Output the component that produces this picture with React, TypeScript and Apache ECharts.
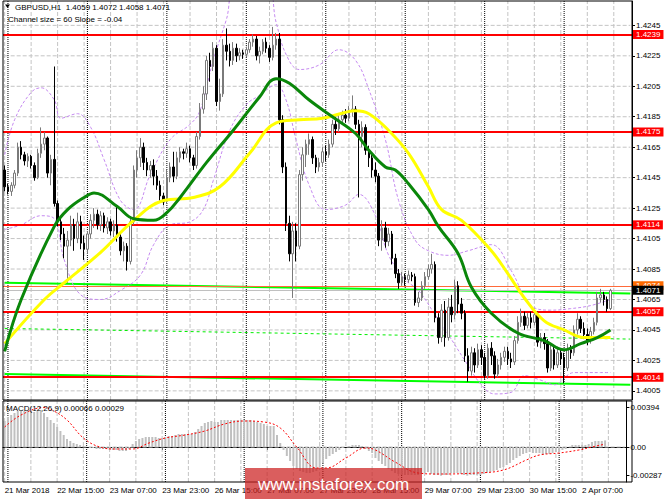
import React, { useEffect, useRef } from "react";
import * as echarts from "echarts";

const FONT = '"Liberation Sans", Arial, sans-serif';

const SYMBOL = "GBPUSD,H1";
const CHANNEL_TEXT = "Channel size = 60 Slope = -0.04";
const MACD_PARAMS = "MACD(12,26,9)";
const WATERMARK = "www.instaforex.com";
const FIRST_LABEL = "21 Mar 2018";

// trading days shown: [day, first hour, last hour]
const BAR_DAYS: [string, number, number][] = [
  ["21 Mar", 23, 23],
  ["22 Mar", 0, 23],
  ["23 Mar", 0, 23],
  ["26 Mar", 0, 23],
  ["27 Mar", 0, 23],
  ["28 Mar", 0, 23],
  ["29 Mar", 0, 23],
  ["30 Mar", 0, 23],
  ["2 Apr", 0, 14],
];
const BLANK_SLOTS = 6;
const LABEL_EVERY = 16;
const GRID_EVERY = 8;

// [open, high, low, close]
const CANDLES: number[][] = [
  [1.4150, 1.4153, 1.4136, 1.4139], [1.4139, 1.4141, 1.4134, 1.4136], [1.4136, 1.4142, 1.4133, 1.4140], [1.4140, 1.4150, 1.4138, 1.4148],
  [1.4148, 1.4168, 1.4146, 1.4165], [1.4165, 1.4169, 1.4157, 1.4160], [1.4160, 1.4162, 1.4153, 1.4156], [1.4156, 1.4161, 1.4152, 1.4159],
  [1.4159, 1.4160, 1.4151, 1.4153], [1.4153, 1.4155, 1.4143, 1.4145], [1.4145, 1.4164, 1.4144, 1.4161], [1.4161, 1.4178, 1.4158, 1.4167],
  [1.4167, 1.4175, 1.4163, 1.4171], [1.4171, 1.4172, 1.4145, 1.4148], [1.4148, 1.4160, 1.4140, 1.4157], [1.4157, 1.4218, 1.4126, 1.4128],
  [1.4128, 1.4130, 1.4113, 1.4116], [1.4116, 1.4119, 1.4104, 1.4108], [1.4108, 1.4112, 1.4092, 1.4100], [1.4100, 1.4110, 1.4076, 1.4104],
  [1.4104, 1.4120, 1.4100, 1.4114], [1.4114, 1.4118, 1.4097, 1.4105], [1.4105, 1.4122, 1.4102, 1.4116], [1.4116, 1.4120, 1.4098, 1.4102],
  [1.4102, 1.4107, 1.4091, 1.4098], [1.4098, 1.4110, 1.4095, 1.4108], [1.4108, 1.4121, 1.4105, 1.4117], [1.4117, 1.4125, 1.4112, 1.4121],
  [1.4121, 1.4124, 1.4111, 1.4114], [1.4114, 1.4123, 1.4110, 1.4120], [1.4120, 1.4122, 1.4109, 1.4112], [1.4112, 1.4119, 1.4108, 1.4116],
  [1.4116, 1.4118, 1.4107, 1.4110], [1.4110, 1.4117, 1.4106, 1.4114], [1.4114, 1.4126, 1.4103, 1.4106], [1.4106, 1.4109, 1.4094, 1.4097],
  [1.4097, 1.4103, 1.4090, 1.4100], [1.4100, 1.4102, 1.4084, 1.4090], [1.4090, 1.4119, 1.4088, 1.4116], [1.4116, 1.4153, 1.4114, 1.4150],
  [1.4150, 1.4163, 1.4145, 1.4158], [1.4158, 1.4171, 1.4152, 1.4165], [1.4165, 1.4168, 1.4150, 1.4155], [1.4155, 1.4158, 1.4146, 1.4150],
  [1.4150, 1.4156, 1.4145, 1.4153], [1.4153, 1.4157, 1.4140, 1.4146], [1.4146, 1.4150, 1.4137, 1.4140], [1.4140, 1.4143, 1.4130, 1.4133],
  [1.4133, 1.4135, 1.4127, 1.4129], [1.4130, 1.4150, 1.4128, 1.4145], [1.4145, 1.4155, 1.4142, 1.4152], [1.4152, 1.4162, 1.4142, 1.4146],
  [1.4146, 1.4162, 1.4144, 1.4158], [1.4158, 1.4165, 1.4155, 1.4162], [1.4162, 1.4164, 1.4157, 1.4161], [1.4161, 1.4168, 1.4158, 1.4164],
  [1.4164, 1.4166, 1.4155, 1.4158], [1.4158, 1.4160, 1.4150, 1.4153], [1.4153, 1.4175, 1.4151, 1.4172], [1.4172, 1.4194, 1.4170, 1.4190],
  [1.4190, 1.4205, 1.4187, 1.4200], [1.4200, 1.4225, 1.4196, 1.4222], [1.4222, 1.4227, 1.4208, 1.4218], [1.4218, 1.4234, 1.4215, 1.4230],
  [1.4230, 1.4232, 1.4192, 1.4195], [1.4195, 1.4210, 1.4189, 1.4200], [1.4200, 1.4236, 1.4198, 1.4232], [1.4232, 1.4243, 1.4222, 1.4228],
  [1.4228, 1.4233, 1.4218, 1.4222], [1.4222, 1.4234, 1.4219, 1.4230], [1.4230, 1.4233, 1.4221, 1.4225], [1.4225, 1.4230, 1.4222, 1.4227],
  [1.4227, 1.4229, 1.4223, 1.4226], [1.4226, 1.4231, 1.4224, 1.4229], [1.4229, 1.4236, 1.4227, 1.4234], [1.4234, 1.4239, 1.4231, 1.4236],
  [1.4236, 1.4238, 1.4222, 1.4225], [1.4225, 1.4231, 1.4220, 1.4228], [1.4228, 1.4236, 1.4226, 1.4234], [1.4234, 1.4237, 1.4227, 1.4230],
  [1.4230, 1.4232, 1.4221, 1.4224], [1.4224, 1.4244, 1.4222, 1.4232], [1.4232, 1.4240, 1.4229, 1.4236], [1.4236, 1.4240, 1.4180, 1.4183],
  [1.4183, 1.4186, 1.4148, 1.4152], [1.4152, 1.4155, 1.4110, 1.4115], [1.4115, 1.4120, 1.4090, 1.4095], [1.4095, 1.4116, 1.4066, 1.4110],
  [1.4110, 1.4115, 1.4090, 1.4100], [1.4100, 1.4150, 1.4098, 1.4147], [1.4147, 1.4165, 1.4143, 1.4160], [1.4160, 1.4170, 1.4152, 1.4167],
  [1.4167, 1.4174, 1.4160, 1.4170], [1.4170, 1.4172, 1.4154, 1.4158], [1.4158, 1.4160, 1.4148, 1.4152], [1.4152, 1.4158, 1.4149, 1.4155],
  [1.4155, 1.4165, 1.4152, 1.4162], [1.4162, 1.4166, 1.4156, 1.4160], [1.4160, 1.4170, 1.4158, 1.4167], [1.4167, 1.4183, 1.4165, 1.4180],
  [1.4180, 1.4185, 1.4173, 1.4177], [1.4177, 1.4186, 1.4175, 1.4183], [1.4183, 1.4189, 1.4180, 1.4186], [1.4186, 1.4190, 1.4181, 1.4184],
  [1.4184, 1.4192, 1.4182, 1.4189], [1.4189, 1.4199, 1.4185, 1.4190], [1.4190, 1.4192, 1.4177, 1.4180], [1.4180, 1.4183, 1.4132, 1.4172],
  [1.4172, 1.4182, 1.4165, 1.4178], [1.4178, 1.4180, 1.4160, 1.4163], [1.4163, 1.4166, 1.4152, 1.4158], [1.4158, 1.4160, 1.4145, 1.4150],
  [1.4150, 1.4155, 1.4142, 1.4146], [1.4146, 1.4148, 1.4100, 1.4104], [1.4104, 1.4117, 1.4097, 1.4112], [1.4112, 1.4116, 1.4099, 1.4103],
  [1.4103, 1.4112, 1.4100, 1.4108], [1.4108, 1.4110, 1.4088, 1.4092], [1.4092, 1.4095, 1.4079, 1.4082], [1.4082, 1.4085, 1.4072, 1.4076],
  [1.4076, 1.4083, 1.4074, 1.4080], [1.4080, 1.4082, 1.4074, 1.4078], [1.4078, 1.4084, 1.4076, 1.4081], [1.4081, 1.4083, 1.4077, 1.4080],
  [1.4080, 1.4082, 1.4061, 1.4063], [1.4063, 1.4070, 1.4060, 1.4066], [1.4066, 1.4077, 1.4064, 1.4074], [1.4074, 1.4083, 1.4072, 1.4080],
  [1.4080, 1.4088, 1.4078, 1.4085], [1.4085, 1.4095, 1.4082, 1.4088], [1.4088, 1.4090, 1.4050, 1.4053], [1.4053, 1.4056, 1.4036, 1.4040],
  [1.4040, 1.4062, 1.4037, 1.4058], [1.4058, 1.4064, 1.4034, 1.4040], [1.4040, 1.4066, 1.4038, 1.4060], [1.4060, 1.4068, 1.4050, 1.4055],
  [1.4055, 1.4078, 1.4052, 1.4074], [1.4074, 1.4077, 1.4056, 1.4062], [1.4062, 1.4066, 1.4052, 1.4056], [1.4056, 1.4058, 1.4024, 1.4028],
  [1.4028, 1.4033, 1.4011, 1.4018], [1.4018, 1.4034, 1.4015, 1.4030], [1.4030, 1.4033, 1.4017, 1.4022], [1.4022, 1.4036, 1.4020, 1.4032],
  [1.4032, 1.4035, 1.4022, 1.4027], [1.4027, 1.4030, 1.4013, 1.4015], [1.4015, 1.4036, 1.4013, 1.4033], [1.4033, 1.4037, 1.4022, 1.4028],
  [1.4028, 1.4031, 1.4013, 1.4016], [1.4016, 1.4026, 1.4014, 1.4022], [1.4022, 1.4030, 1.4019, 1.4027], [1.4027, 1.4034, 1.4024, 1.4031],
  [1.4031, 1.4034, 1.4022, 1.4026], [1.4026, 1.4030, 1.4020, 1.4024], [1.4024, 1.4041, 1.4022, 1.4038], [1.4038, 1.4054, 1.4036, 1.4050],
  [1.4050, 1.4059, 1.4047, 1.4054], [1.4054, 1.4057, 1.4045, 1.4048], [1.4048, 1.4056, 1.4046, 1.4053], [1.4053, 1.4057, 1.4046, 1.4050],
  [1.4050, 1.4059, 1.4048, 1.4055], [1.4055, 1.4057, 1.4034, 1.4037], [1.4037, 1.4043, 1.4033, 1.4040], [1.4040, 1.4043, 1.4032, 1.4036],
  [1.4036, 1.4039, 1.4017, 1.4020], [1.4020, 1.4036, 1.4018, 1.4032], [1.4032, 1.4035, 1.4019, 1.4022], [1.4022, 1.4034, 1.4020, 1.4030],
  [1.4030, 1.4033, 1.4022, 1.4026], [1.4027, 1.4030, 1.4010, 1.4020], [1.4020, 1.4036, 1.4018, 1.4032], [1.4032, 1.4035, 1.4026, 1.4030],
  [1.4030, 1.4048, 1.4028, 1.4045], [1.4045, 1.4056, 1.4042, 1.4052], [1.4052, 1.4054, 1.4043, 1.4046], [1.4046, 1.4050, 1.4039, 1.4042],
  [1.4042, 1.4046, 1.4035, 1.4038], [1.4038, 1.4047, 1.4036, 1.4044], [1.4044, 1.4053, 1.4042, 1.4050], [1.4050, 1.4070, 1.4048, 1.4066],
  [1.4066, 1.4072, 1.4063, 1.4068], [1.4068, 1.4070, 1.4061, 1.4065], [1.4065, 1.4067, 1.4057, 1.4059], [1.4059, 1.4072, 1.4058, 1.4071],
];

// moving averages: [bar index, price]
const MA_GREEN: number[][] = [
  [0, 1.4031], [5, 1.4065], [15, 1.4113], [19, 1.4124], [24, 1.4132], [27, 1.4135], [34, 1.4126], [39, 1.4118],
  [45, 1.4117], [49, 1.4122], [53, 1.4132], [61, 1.4155], [69, 1.4176], [77, 1.4198], [82, 1.4210], [86, 1.4207],
  [92, 1.4196], [99, 1.4185], [106, 1.4174], [110, 1.4163], [115, 1.4152], [118, 1.4150], [122, 1.4141], [128, 1.4124],
  [131, 1.4113], [137, 1.4095], [141, 1.4073], [147, 1.4056], [155, 1.4043], [163, 1.4038], [169, 1.4032], [174, 1.4036],
  [179, 1.4040], [183, 1.4045],
];
const MA_YELLOW: number[][] = [
  [0, 1.4036], [12, 1.4065], [18, 1.4076], [29, 1.4096], [39, 1.4117], [48, 1.4130], [57, 1.4132], [65, 1.4139],
  [74, 1.4161], [82, 1.4181], [89, 1.4183], [96, 1.4184], [103, 1.4188], [106, 1.4189], [110, 1.4187], [116, 1.4176],
  [122, 1.4161], [128, 1.4139], [132, 1.4124], [138, 1.4117], [147, 1.4097], [152, 1.4082], [157, 1.4066], [163, 1.4051],
  [169, 1.4045], [175, 1.4040], [181, 1.4040], [183, 1.4040],
];
// dotted envelope bands: [bar index, price]
const BAND_UPPER: number[][] = [
  [0, 1.4160], [3, 1.4183], [8, 1.4201], [11, 1.4204], [15, 1.4196], [17, 1.4184], [22, 1.4187], [26, 1.4178],
  [30, 1.4157], [35, 1.4130], [39, 1.4124], [44, 1.4147], [50, 1.4170], [56, 1.4180], [59, 1.4189], [63, 1.4222],
  [67, 1.4249], [70, 1.4272], [79, 1.4272], [82, 1.4247], [85, 1.4226], [89, 1.4216], [95, 1.4219], [101, 1.4229],
  [106, 1.4222], [110, 1.4203], [115, 1.4170], [119, 1.4130], [124, 1.4104], [128, 1.4097], [134, 1.4094], [140, 1.4097],
  [147, 1.4101], [153, 1.4084], [159, 1.4061], [165, 1.4058], [171, 1.4059], [177, 1.4061], [183, 1.4065],
];
const BAND_LOWER: number[][] = [
  [0, 1.4111], [5, 1.4114], [11, 1.4120], [15, 1.4118], [18, 1.4091], [23, 1.4068], [29, 1.4065], [35, 1.4071],
  [41, 1.4081], [45, 1.4101], [50, 1.4114], [56, 1.4116], [60, 1.4124], [63, 1.4143], [68, 1.4176], [73, 1.4193],
  [77, 1.4199], [82, 1.4206], [85, 1.4196], [88, 1.4170], [92, 1.4140], [97, 1.4124], [103, 1.4127], [107, 1.4134],
  [112, 1.4120], [116, 1.4094], [121, 1.4078], [125, 1.4071], [130, 1.4055], [134, 1.4042], [139, 1.4025], [144, 1.4009],
  [148, 1.4003], [153, 1.4004], [157, 1.4015], [162, 1.4012], [166, 1.4009], [172, 1.4017], [180, 1.4017], [183, 1.4017],
];
// regression channel (start slot, end slot)
const CHANNEL_UPPER: number[][] = [[0, 1.4076], [189, 1.4069]];
const CHANNEL_MID: number[][] = [[0, 1.4046], [189, 1.4039]];
const CHANNEL_LOWER: number[][] = [[0, 1.4016], [189, 1.4009]];

const RED_LEVELS = [1.4239, 1.4175, 1.4114, 1.4057, 1.4014];
const ORANGE_LEVEL = 1.4074;
const BID_LEVEL = 1.4071;

const PRICE_TICKS = [1.4005, 1.4025, 1.4045, 1.4065, 1.4085, 1.4105, 1.4125, 1.4145, 1.4165, 1.4185, 1.4205, 1.4225, 1.4245];
const MACD_TICKS = [0.00394, 0, -0.00287];

const MACD_MAIN: number[] = [
  0.0026, 0.0030, 0.0032, 0.0034, 0.0036, 0.0036, 0.0036, 0.0036, 0.0036, 0.0035,
  0.0036, 0.0036, 0.0034, 0.0030, 0.0027, 0.0024, 0.0020, 0.0016, 0.0012, 0.0008,
  0.0006, 0.0004, 0.0003, 0.0002, 0.0001, 0.0000, -0.0001, -0.0001, -0.0002, -0.0002,
  -0.0002, -0.0002, -0.0003, -0.0003, -0.0003, -0.0004, -0.0004, -0.0004, -0.0002, 0.0003,
  0.0006, 0.0008, 0.0009, 0.0010, 0.0010, 0.0010, 0.0010, 0.0009, 0.0009, 0.0010,
  0.0011, 0.0011, 0.0012, 0.0013, 0.0013, 0.0013, 0.0013, 0.0013, 0.0015, 0.0018,
  0.0021, 0.0024, 0.0025, 0.0026, 0.0025, 0.0025, 0.0027, 0.0027, 0.0027, 0.0027,
  0.0027, 0.0027, 0.0027, 0.0027, 0.0027, 0.0027, 0.0026, 0.0025, 0.0024, 0.0023,
  0.0021, 0.0021, 0.0021, 0.0012, 0.0004, -0.0003, -0.0009, -0.0014, -0.0019, -0.0022,
  -0.0024, -0.0025, -0.0026, -0.0026, -0.0025, -0.0024, -0.0020, -0.0016, -0.0012, -0.0009,
  -0.0007, -0.0005, -0.0003, -0.0001, 0.0000, 0.0001, 0.0002, 0.0002, 0.0002, 0.0001,
  -0.0002, -0.0004, -0.0006, -0.0011, -0.0014, -0.0017, -0.0019, -0.0022, -0.0024, -0.0026,
  -0.0027, -0.0028, -0.0028, -0.0028, -0.0028, -0.0028, -0.0028, -0.0027, -0.0026, -0.0025,
  -0.0027, -0.0028, -0.0028, -0.00287, -0.0028, -0.0028, -0.0026, -0.0026, -0.0026, -0.0027,
  -0.0028, -0.00287, -0.0028, -0.0028, -0.0028, -0.0028, -0.0027, -0.0026, -0.0025, -0.0024,
  -0.0023, -0.0021, -0.0020, -0.0018, -0.0016, -0.0013, -0.0011, -0.0009, -0.0007, -0.0006,
  -0.0005, -0.0006, -0.0006, -0.0006, -0.0008, -0.0007, -0.0007, -0.0006, -0.0005, -0.0005,
  -0.0003, -0.0002, 0.0000, 0.0002, 0.0002, 0.0002, 0.0002, 0.0002, 0.0003, 0.0005,
  0.0006, 0.0006, 0.0006, 0.00066,
];
// signal line: [bar index, value]
const MACD_SIGNAL: number[][] = [
  [0, 0.0020], [5, 0.0032], [12, 0.00394], [15, 0.0036], [19, 0.0027], [24, 0.0009], [29, 0.0000], [34, -0.0002],
  [39, -0.0002], [44, 0.0004], [49, 0.0009], [55, 0.0012], [61, 0.0016], [67, 0.0023], [73, 0.0026], [79, 0.0025],
  [84, 0.0019], [89, 0.0000], [95, -0.0021], [98, -0.0021], [104, -0.0011], [110, -0.0001], [113, -0.0003], [119, -0.0015],
  [126, -0.0026], [132, -0.0027], [144, -0.0026], [152, -0.0023], [159, -0.0013], [163, -0.0008], [169, -0.0006], [175, -0.0003],
  [179, 0.0000], [183, 0.00029],
];

function buildCategories() {
  const cats: string[] = [];
  const dayStarts: number[] = [];
  BAR_DAYS.forEach(([d, from, to]) => {
    for (let h = from; h <= to; h++) {
      if (h === 0) dayStarts.push(cats.length);
      cats.push(`${d} ${String(h).padStart(2, "0")}:00`);
    }
  });
  const barCount = cats.length;
  for (let i = 0; i < BLANK_SLOTS; i++) cats.push(`blank-${i}`);
  return { cats, dayStarts, barCount };
}

// plot frame in pixels
const L = 3, R = 33, MAIN_TOP = 1, MAIN_H = 399, MACD_TOP = 401, MACD_H = 81, W = 665;

export default function App() {
  const ref = useRef<HTMLDivElement>(null);
  useEffect(() => {
    if (!ref.current) return;
    const chart = echarts.init(ref.current, undefined, { renderer: "svg" });
    const { cats, dayStarts, barCount } = buildCategories();
    const last = CANDLES[CANDLES.length - 1];
    const header = `${SYMBOL}  ${last.map((v) => v.toFixed(4)).join(" ")}`;
    const macdText = `${MACD_PARAMS} ${MACD_MAIN[MACD_MAIN.length - 1].toFixed(5)} ${MACD_SIGNAL[MACD_SIGNAL.length - 1][1].toFixed(5)}`;

    const PMIN = 1.3999, PMAX = 1.4261, MMIN = -0.0035, MMAX = 0.0046;
    const lastSlot = cats.length - 1;
    // grid line segments through the library's scales (null breaks the line)
    const hSeg = (vals: number[]) => vals.flatMap((v) => [[0, v], [lastSlot, v], null]);
    const vSeg = (idx: number[], lo: number, hi: number) => idx.flatMap((i) => [[i, lo], [i, hi], null]);
    const gridIdx: number[] = [];
    for (let i = 0; i < cats.length; i += GRID_EVERY) gridIdx.push(i);

    const gridStyle = { color: "#c4c4c4", width: 1, type: "dashed" };
    const dayStyle = { color: "#000000", width: 1, type: "dotted" };
    const gridLine = (name: string, xi: number, data: any[], lineStyle: any) => ({
      name, type: "line", xAxisIndex: xi, yAxisIndex: xi, data, z: 2, silent: true, symbol: "none",
      connectNulls: false, lineStyle, clip: false,
    });

    const levelLabel = (bg: string) => ({
      show: true,
      position: "end",
      distance: 1,
      formatter: (p: any) => Number(p.value).toFixed(4),
      color: "#fff",
      backgroundColor: bg,
      padding: [1, 3, 0, 3],
      fontSize: 8,
      fontFamily: FONT,
    });
    const labelStyle = { fontSize: 8, fontFamily: FONT, color: "#000" };

    const option: any = {
      animation: false,
      backgroundColor: "#fff",
      grid: [
        { left: L, right: R, top: MAIN_TOP, height: MAIN_H, show: false },
        { left: L, right: R, top: MACD_TOP, height: MACD_H, show: false },
      ],
      xAxis: [
        {
          type: "category", gridIndex: 0, data: cats, boundaryGap: true,
          axisLine: { show: false }, axisTick: { show: false }, axisLabel: { show: false }, splitLine: { show: false },
        },
        {
          type: "category", gridIndex: 1, data: cats, boundaryGap: true,
          axisLine: { show: true, lineStyle: { color: "#000" } },
          axisTick: { show: true, alignWithLabel: true, length: 3, lineStyle: { color: "#000" }, interval: (i: number) => i < barCount && i % LABEL_EVERY === 0 },
          axisLabel: {
            ...labelStyle, align: "left", margin: 4,
            interval: (i: number) => i < barCount && i % LABEL_EVERY === 0,
            formatter: (v: string, i: number) => (i === 0 ? FIRST_LABEL : v),
          },
          splitLine: { show: false },
        },
      ],
      yAxis: [
        {
          type: "value", gridIndex: 0, position: "right", min: PMIN, max: PMAX,
          axisLine: { show: true, lineStyle: { color: "#000" } },
          axisTick: { show: true, length: 3, customValues: PRICE_TICKS, lineStyle: { color: "#000" } },
          axisLabel: { ...labelStyle, margin: 4, customValues: PRICE_TICKS, formatter: (v: number) => v.toFixed(4) },
          splitLine: { show: false },
        },
        {
          type: "value", gridIndex: 1, position: "right", min: MMIN, max: MMAX,
          axisLine: { show: true, lineStyle: { color: "#000" } },
          axisTick: { show: true, length: 3, customValues: MACD_TICKS, lineStyle: { color: "#000" } },
          axisLabel: {
            ...labelStyle, margin: 4, customValues: MACD_TICKS,
            formatter: (v: number) => (Math.abs(v) < 1e-9 ? "0.00" : v.toFixed(5)),
          },
          splitLine: { show: false },
        },
      ],
      series: [
        gridLine("grid-h", 0, hSeg(PRICE_TICKS), gridStyle),
        gridLine("grid-v", 0, vSeg(gridIdx, PMIN, PMAX), gridStyle),
        gridLine("day-v", 0, vSeg(dayStarts, PMIN, PMAX), dayStyle),
        gridLine("macd-h", 1, hSeg([0]), gridStyle),
        gridLine("macd-v", 1, vSeg(gridIdx, MMIN, MMAX), gridStyle),
        gridLine("macd-day", 1, vSeg(dayStarts, MMIN, MMAX), dayStyle),
        {
          name: "channel-upper", type: "line", xAxisIndex: 0, yAxisIndex: 0, data: CHANNEL_UPPER, z: 3, symbol: "none",
          lineStyle: { color: "#00ff00", width: 2 },
        },
        {
          name: "channel-mid", type: "line", xAxisIndex: 0, yAxisIndex: 0, data: CHANNEL_MID, z: 3, symbol: "none",
          lineStyle: { color: "#00ee00", width: 1, type: [3, 3] },
        },
        {
          name: "channel-lower", type: "line", xAxisIndex: 0, yAxisIndex: 0, data: CHANNEL_LOWER, z: 3, symbol: "none",
          lineStyle: { color: "#00ff00", width: 2 },
        },
        {
          name: "band-upper", type: "line", xAxisIndex: 0, yAxisIndex: 0, data: BAND_UPPER, z: 4, symbol: "none", smooth: 0.4,
          lineStyle: { color: "#c58af0", width: 1, type: [3, 2] },
        },
        {
          name: "band-lower", type: "line", xAxisIndex: 0, yAxisIndex: 0, data: BAND_LOWER, z: 4, symbol: "none", smooth: 0.4,
          lineStyle: { color: "#c58af0", width: 1, type: [3, 2] },
        },
        {
          name: "GBPUSD", type: "candlestick", xAxisIndex: 0, yAxisIndex: 0, z: 5, barWidth: 2,
          data: CANDLES.map(([o, h, l, c]) => [o, c, l, h]),
          itemStyle: { color: "#ffffff", color0: "#000000", borderColor: "#7a7a7a", borderColor0: "#000000", borderWidth: 1 },
        },
        {
          name: "ma-yellow", type: "line", xAxisIndex: 0, yAxisIndex: 0, data: MA_YELLOW, z: 6, symbol: "none", smooth: 0.4,
          lineStyle: { color: "#ffff00", width: 3 },
        },
        {
          name: "ma-green", type: "line", xAxisIndex: 0, yAxisIndex: 0, data: MA_GREEN, z: 6, symbol: "none", smooth: 0.4,
          lineStyle: { color: "#0a870a", width: 3 },
        },
        {
          name: "levels", type: "line", xAxisIndex: 0, yAxisIndex: 0, data: [], z: 7, silent: true,
          markLine: {
            silent: true, symbol: "none", precision: 5,
            data: [
              ...RED_LEVELS.map((v) => ({ yAxis: v, lineStyle: { color: "#ff0000", width: 2, type: "solid" }, label: levelLabel("#ff0000") })),
              { yAxis: ORANGE_LEVEL, lineStyle: { color: "#ff6a3a", width: 1, type: "solid" }, label: levelLabel("#ff6a00") },
              { yAxis: BID_LEVEL, lineStyle: { color: "#c0c0c0", width: 1, type: "solid" }, label: levelLabel("#000000") },
            ],
          },
        },
        {
          name: "MACD", type: "bar", xAxisIndex: 1, yAxisIndex: 1, data: MACD_MAIN, z: 3, barWidth: 2,
          itemStyle: { color: "#c0c0c0" },
        },
        {
          name: "Signal", type: "line", xAxisIndex: 1, yAxisIndex: 1, data: MACD_SIGNAL, z: 4, symbol: "none", smooth: 0.4,
          lineStyle: { color: "#ff0000", width: 1, type: [2, 2] },
        },
      ],
      graphic: [
        { type: "rect", shape: { x: L, y: MAIN_TOP, width: W - L - R, height: MAIN_H }, style: { fill: "none", stroke: "#000", lineWidth: 1 }, z: 40 },
        { type: "rect", shape: { x: L, y: MACD_TOP, width: W - L - R, height: MACD_H }, style: { fill: "none", stroke: "#000", lineWidth: 1 }, z: 40 },
        { type: "polygon", shape: { points: [[5, 4.5], [10, 4.5], [7.5, 8]] }, style: { fill: "#000" }, z: 50 },
        { type: "text", x: 15, y: 7, style: { text: header, fill: "#000", fontSize: 8, fontFamily: FONT, verticalAlign: "middle" }, z: 50 },
        { type: "text", x: 8, y: 19.5, style: { text: CHANNEL_TEXT, fill: "#000", fontSize: 8, fontFamily: FONT, verticalAlign: "middle" }, z: 50 },
        { type: "text", x: 6, y: 408, style: { text: macdText, fill: "#000", fontSize: 8, fontFamily: FONT, verticalAlign: "middle" }, z: 50 },
        { type: "rect", shape: { x: 245, y: 468, width: 177, height: 31 }, style: { fill: "rgba(204,32,32,0.72)" }, z: 60 },
        {
          type: "text", x: 333.5, y: 484,
          style: { text: WATERMARK, fill: "#fff", fontSize: 17, fontFamily: FONT, align: "center", verticalAlign: "middle" }, z: 61,
        },
      ],
    };
    chart.setOption(option);
    return () => chart.dispose();
  }, []);
  return <div ref={ref} style={{ position: "fixed", left: 0, top: 0, width: 665, height: 499 }} />;
}
